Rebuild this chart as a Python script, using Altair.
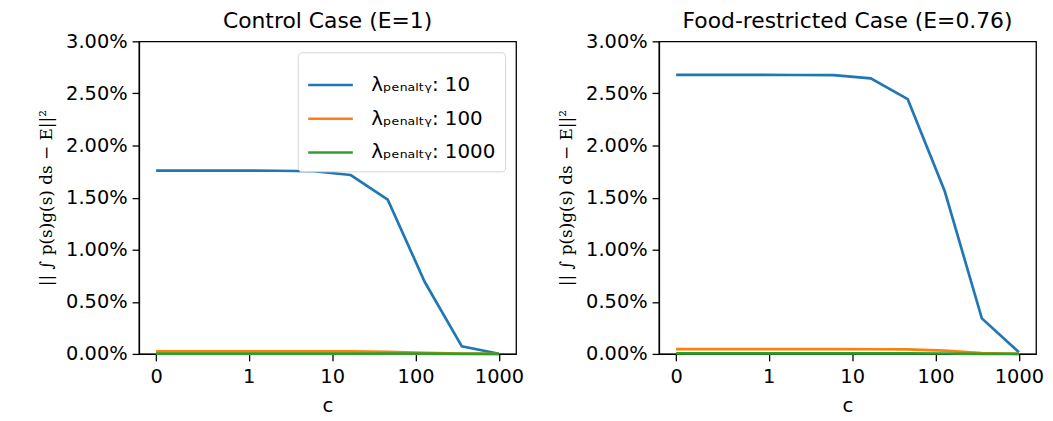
import altair as alt
import pandas as pd

c_values = [0, 0.1, 0.278, 0.774, 2.15, 5.99, 16.7, 46.4, 129, 359, 1000]
penalties = ["10", "100", "1000"]

# values in fraction (0.0176 = 1.76%)
control_10 = [0.01759, 0.01759, 0.01759, 0.01759, 0.01758, 0.01753, 0.01717, 0.01480, 0.00690, 0.00073, 0.00002]
control_100 = [0.00024, 0.00024, 0.00024, 0.00024, 0.00024, 0.00024, 0.00024, 0.00021, 0.00010, 0.00003, 0.000005]
control_1000 = [0.00003, 0.00003, 0.00003, 0.00003, 0.00003, 0.00003, 0.00003, 0.00003, 0.00002, 0.00001, 0.000002]

food_10 = [0.02678, 0.02678, 0.02678, 0.02678, 0.02677, 0.02675, 0.02645, 0.02445, 0.01561, 0.00341, 0.00016]
food_100 = [0.00046, 0.00046, 0.00046, 0.00046, 0.00046, 0.00046, 0.00045, 0.00043, 0.00032, 0.00008, 0.00001]
food_1000 = [0.00005, 0.00005, 0.00005, 0.00005, 0.00005, 0.00005, 0.00005, 0.00005, 0.00004, 0.00001, 0.000002]

tick_pos = [0, 1 / 0.9, 1 + 1 / 0.9, 2 + 1 / 0.9, 3 + 1 / 0.9]
y_ticks = [0, 0.005, 0.01, 0.015, 0.02, 0.025, 0.03]
colors = ["#1f77b4", "#ff7f0e", "#2ca02c"]


def make_df(series):
    rows = []
    for pen, vals in zip(penalties, series):
        for cv, v in zip(c_values, vals):
            rows.append({"c": cv, "err": v, "penalty": "λₚₑₙₐₗₜᵧ: " + pen})
    return pd.DataFrame(rows)


legend_labels = ["λₚₑₙₐₗₜᵧ: " + p for p in penalties]
ytitle = "|| ∫ p(s)g(s) ds − E||²"


def panel(df, title, show_legend):
    scale = alt.Scale(domain=legend_labels, range=colors)
    if show_legend:
        color = alt.Color(
            "penalty:N",
            scale=scale,
            legend=alt.Legend(
                title=None,
                orient="top-right",
                offset=11,
                symbolType="stroke",
                symbolStrokeWidth=2.7,
                symbolSize=45 * 45,
                labelFontSize=20,
                labelFont="DejaVu Sans",
                labelColor="black",
                labelOffset=17,
                rowPadding=0,
                padding=9,
                strokeColor="#d4d4d4",
                fillColor="white",
                cornerRadius=4,
            ),
        )
    else:
        color = alt.Color("penalty:N", scale=scale, legend=None)
    return (
        alt.Chart(df, title=alt.Title(title, fontSize=22, font="DejaVu Sans", fontWeight="normal", offset=-2))
        .transform_calculate(
            xt="datum.c <= 1 ? datum.c / 0.9 : 1 / 0.9 + log(datum.c) / LN10"
        )
        .mark_line(strokeWidth=2.7)
        .encode(
            x=alt.X(
                "xt:Q",
                scale=alt.Scale(domain=[-0.2056, 4.3167], nice=False, zero=False),
                axis=alt.Axis(
                    title="c",
                    values=tick_pos,
                    labelExpr="datum.value < 0.5 ? '0' : format(pow(10, round(datum.value - 1 / 0.9)), 'd')",
                ),
            ),
            y=alt.Y(
                "err:Q",
                scale=alt.Scale(domain=[0, 0.03], nice=False),
                axis=alt.Axis(title=ytitle, values=y_ticks, format=".2%"),
            ),
            color=color,
            order=alt.Order("c:Q"),
        )
        .properties(width=380, height=315)
    )


left = panel(make_df([control_10, control_100, control_1000]), "Control Case (E=1)", True)
right = panel(make_df([food_10, food_100, food_1000]), "Food-restricted Case (E=0.76)", False)

chart = (
    alt.hconcat(left, right, spacing=32)
    .resolve_scale(color="independent")
    .resolve_legend(color="independent")
    .properties(padding={"left": 29, "top": 0, "right": 0, "bottom": 0})
    .configure_view(stroke="black", strokeWidth=1.3)
    .configure_axis(
        grid=False,
        domainColor="black",
        domainWidth=1.3,
        tickColor="black",
        tickSize=7,
        tickWidth=1.3,
        labelFontSize=19.5,
        labelFont="DejaVu Sans",
        labelColor="black",
        labelPadding=5,
        titleFontSize=20,
        titleFont="DejaVu Sans",
        titleFontWeight="normal",
        titleColor="black",
    )
    .configure_axisX(titlePadding=10, labelPadding=7, labelFlush=False)
    .configure_axisY(titleFont="DejaVu Serif", titleFontSize=17, titlePadding=10)
)

chart.save("out.html", embed_options={"renderer": "svg", "actions": False})
